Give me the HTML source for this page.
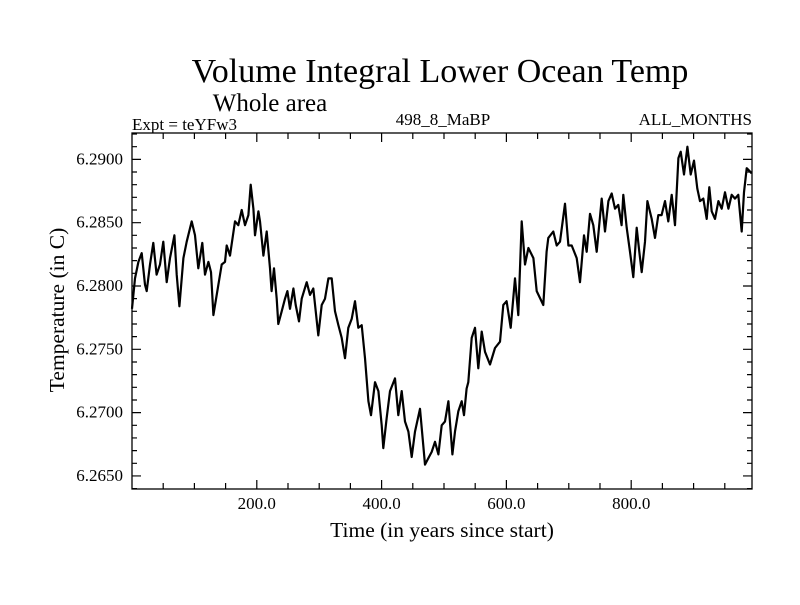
<!DOCTYPE html>
<html><head><meta charset="utf-8"><style>
body{margin:0;background:#fff}
svg text{font-family:"Liberation Serif",serif;fill:#000}
</style></head><body>
<svg id="chart" width="800" height="600">
<text x="440" y="82" font-size="34" text-anchor="middle">Volume Integral Lower Ocean Temp</text>
<text x="270" y="111" font-size="25" text-anchor="middle">Whole area</text>
<text x="132" y="130" font-size="17">Expt = teYFw3</text>
<text x="443" y="125" font-size="17" text-anchor="middle">498_8_MaBP</text>
<text x="752" y="125" font-size="17" text-anchor="end">ALL_MONTHS</text>
<text x="442" y="537" font-size="21.5" text-anchor="middle">Time (in years since start)</text>
<text transform="translate(64,310) rotate(-90)" font-size="21.5" text-anchor="middle">Temperature (in C)</text>
<g id="axes"></g>
<g id="series"></g>
</svg>
<script>
const years=[0,4.8,10.2,15.5,20.9,23.5,28.9,34.2,39.5,44.9,50.2,55.6,60.9,67.9,71.6,75.9,82.3,87.6,95.6,101,106.3,112.7,117,122.4,126.6,130.4,135.7,143.7,149.1,151.7,157.1,165.1,170.4,175.8,181.1,186.5,190.2,194.5,197.1,202.5,205.2,210.5,215.8,221.2,223.8,227.6,231.9,234.5,239.9,245.2,249,253.2,258.6,262.3,267.7,271.9,280,285.3,290.6,298.6,304,309.3,314.7,320,325.3,330.7,336,341.4,346.7,352.1,357.4,362.7,368.1,373.4,378.8,383,389.5,394.8,400.1,402.8,408.1,413.5,421.5,426.8,432.2,437.5,442.9,448.2,453.6,461.6,466.9,469.6,474.9,480.3,485.6,491,496.3,501.6,507,513.4,517.6,523,528.3,532.1,536.3,539,544.4,549.7,555,560.4,565.7,573.7,581.7,589.8,595.1,600.4,606.9,613.8,619.1,624.5,629.8,635.2,643.2,648.5,659.2,664.5,667.2,675.2,680.6,685.9,693.9,699.3,704.6,712.6,718,724.4,728.7,734,739.3,744.7,752.7,758,763.4,768.7,774.1,779.4,784.7,787.4,792.8,798.1,803.4,808.8,813,816.8,822.1,825.9,832.8,838.2,843.5,848.8,854.2,859.5,864.9,870.2,875.6,879.3,884.6,890,895.3,900.7,906,910.3,915.6,921,925.2,929,934.3,939.7,945,950.4,955.7,961,966.4,971.7,977.1,980.8,985.1,993.1];
const temps=[6.2782,6.2806,6.2819,6.2826,6.2801,6.2796,6.2817,6.2834,6.2809,6.2817,6.2835,6.2803,6.2822,6.284,6.2809,6.2784,6.2822,6.2835,6.2851,6.284,6.2814,6.2834,6.2809,6.2819,6.2811,6.2777,6.2793,6.2817,6.2819,6.2832,6.2824,6.2851,6.2848,6.286,6.2848,6.2856,6.288,6.2861,6.284,6.2859,6.2851,6.2824,6.2843,6.2814,6.2796,6.2814,6.279,6.277,6.278,6.279,6.2796,6.2782,6.2798,6.2785,6.2772,6.279,6.2803,6.2793,6.2798,6.2761,6.2785,6.279,6.2806,6.2806,6.278,6.2769,6.2759,6.2743,6.2767,6.2774,6.2788,6.2767,6.2769,6.2743,6.2709,6.2698,6.2724,6.2717,6.269,6.2672,6.2696,6.2717,6.2727,6.2698,6.2717,6.2693,6.2685,6.2665,6.2685,6.2703,6.2674,6.2659,6.2664,6.2669,6.2677,6.2667,6.269,6.2693,6.2709,6.2667,6.2685,6.2701,6.2709,6.2698,6.2719,6.2724,6.2759,6.2767,6.2735,6.2764,6.2748,6.2738,6.2751,6.2756,6.2785,6.2788,6.2767,6.2806,6.2777,6.2851,6.2817,6.283,6.2822,6.2796,6.2785,6.2827,6.2838,6.2843,6.2832,6.2835,6.2865,6.2832,6.2832,6.2822,6.2803,6.284,6.2827,6.2857,6.2848,6.2827,6.2869,6.2843,6.2867,6.2873,6.2861,6.2864,6.2848,6.2872,6.2846,6.2827,6.2807,6.2846,6.2827,6.2811,6.2835,6.2867,6.2853,6.2838,6.2856,6.2856,6.2867,6.2851,6.2872,6.2848,6.2901,6.2906,6.2888,6.291,6.2888,6.2899,6.2877,6.2867,6.2869,6.2853,6.2878,6.2859,6.2853,6.2867,6.2861,6.2874,6.2861,6.2872,6.2869,6.2872,6.2843,6.2874,6.2893,6.2889];
const xTickLabels=["200.0","400.0","600.0","800.0"];
const xTickValues=[200,400,600,800];
const yTickLabels=["6.2650","6.2700","6.2750","6.2800","6.2850","6.2900"];
const yTickValues=[6.265,6.27,6.275,6.28,6.285,6.29];

const L=132,R=752,T=133,B=489,XMIN=0,XMAX=993.6,YMIN=6.26397,YMAX=6.29208;
const sx=v=>L+(v-XMIN)/(XMAX-XMIN)*(R-L);
const sy=v=>B-(v-YMIN)/(YMAX-YMIN)*(B-T);
const NS="http://www.w3.org/2000/svg";
const axes=document.getElementById('axes');
function mk(tag,attrs,parent){const e=document.createElementNS(NS,tag);for(const k in attrs)e.setAttribute(k,attrs[k]);parent.appendChild(e);return e;}
const frame=mk('rect',{x:L,y:T,width:R-L,height:B-T,fill:'none',stroke:'#000','stroke-width':1.3},axes);


let p='';
for(let v=50;v<XMAX;v+=50){const x=sx(v),len=(v%200===0)?9:6;p+=`M${x},${B}v${-len}M${x},${T}v${len}`;}
for(let i=0;i<=28;i++){const v=6.264+i*0.001;if(v<YMIN||v>YMAX)continue;const y=sy(v),len=(Math.round(v*1000)%5===0)?9:5;p+=`M${L},${y}h${len}M${R},${y}h${-len}`;}
const ticks=mk('path',{d:p,stroke:'#000','stroke-width':1.2,fill:'none'},axes);


xTickValues.forEach((v,i)=>{const t=mk('text',{x:sx(v),y:509,'font-size':17,'text-anchor':'middle'},axes);t.textContent=xTickLabels[i];

});
yTickValues.forEach((v,i)=>{const t=mk('text',{x:123,y:sy(v)+5,'font-size':17,'text-anchor':'end'},axes);t.textContent=yTickLabels[i];

});
const d=years.map((v,i)=>(i?'L':'M')+sx(v).toFixed(1)+','+sy(temps[i]).toFixed(1)).join('');
const line=mk('path',{d:d,stroke:'#000','stroke-width':2.2,fill:'none','stroke-linejoin':'round'},document.getElementById('series'));


</script>
</body></html>
